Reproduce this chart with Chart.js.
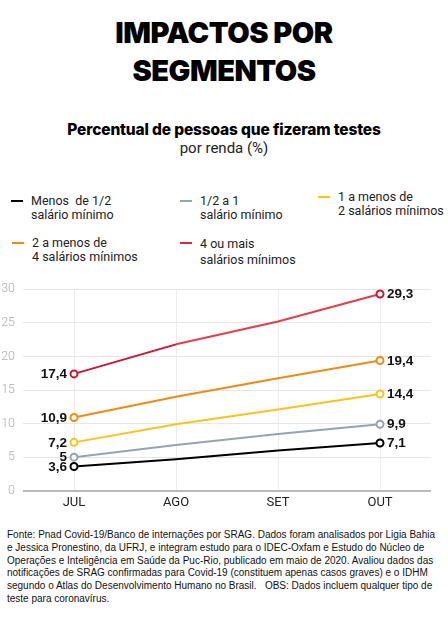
<!DOCTYPE html>
<html>
<head>
<meta charset="utf-8">
<script src="https://cdn.jsdelivr.net/npm/chart.js@4/dist/chart.umd.min.js"></script>
<style>
  html,body{margin:0;padding:0;background:#fff;}
  body{width:448px;height:631px;position:relative;overflow:hidden;font-family:Roboto,"Liberation Sans",Arial,sans-serif;}
  .title{position:absolute;left:0;width:448px;top:14px;text-align:center;font-family:Inter,Roboto,sans-serif;font-weight:900;font-size:29px;line-height:38px;letter-spacing:-0.5px;color:#000;}
  .sub{position:absolute;left:0;width:448px;top:121px;text-align:center;font-family:Inter,Roboto,sans-serif;font-weight:800;font-size:15.5px;letter-spacing:-0.15px;color:#000;line-height:18px;}
  .sub2{position:absolute;left:0;width:448px;top:139px;text-align:center;font-family:Roboto,sans-serif;font-size:15px;color:#222;line-height:18px;}
  .leg{position:absolute;font-size:12.5px;line-height:13.5px;color:#222;}
  .leg .sw{position:absolute;width:12px;height:2px;left:-20px;top:6px;}
  #wrap{position:absolute;left:0;top:280px;width:448px;height:232px;}
  .foot{position:absolute;left:7px;top:529px;font-family:"Liberation Sans",Arial,sans-serif;font-size:10px;line-height:12.8px;color:#111;white-space:pre;}
</style>
</head>
<body>
<div class="title">IMPACTOS POR<br>SEGMENTOS</div>
<div class="sub">Percentual de pessoas que fizeram testes</div>
<div class="sub2">por renda (%)</div>
<div id="legend"></div>
<div id="wrap"><canvas id="c"></canvas></div>
<div class="foot">Fonte: Pnad Covid-19/Banco de internações por SRAG. Dados foram analisados por Ligia Bahia
e Jessica Pronestino, da UFRJ, e integram estudo para o IDEC-Oxfam e Estudo do Núcleo de
Operações e Inteligência em Saúde da Puc-Rio, publicado em maio de 2020. Avaliou dados das
notificações de SRAG confirmadas para Covid-19 (constituem apenas casos graves) e o IDHM
segundo o Atlas do Desenvolvimento Humano no Brasil.   OBS: Dados incluem qualquer tipo de
teste para coronavírus.</div>
<script>
const categories = ["JUL", "AGO", "SET", "OUT"];
const seriesNames = [
  ["Menos  de 1/2", "salário mínimo"],
  ["1/2 a 1", "salário mínimo"],
  ["1 a menos de", "2 salários mínimos"],
  ["2 a menos de", "4 salários mínimos"],
  ["4 ou mais", "salários mínimos"]
];
const menos12 = [3.6, 4.7, 6.0, 7.1];
const meioA1 = [5, 6.8, 8.45, 9.9];
const umA2 = [7.2, 9.9, 12.1, 14.4];
const doisA4 = [10.9, 14.0, 16.75, 19.4];
const quatroMais = [17.4, 21.8, 25.2, 29.3];
const yTicks = [0, 5, 10, 15, 20, 25, 30];

const colors = ["#000000", "#97a4ae", "#f6c51b", "#ee8b13", "#dc2a3a"];
const pointColors = ["#000000", "#97a4ae", "#f6c51b", "#ee8b13", "#d0142e"];
const seriesValues = [menos12, meioA1, umA2, doisA4, quatroMais];

// legend (HTML)
const legPos = [[31,194],[200,194],[338,190],[32,236],[200,236]];
const legEl = document.getElementById('legend');
seriesNames.forEach((n,i)=>{
  const d = document.createElement('div');
  d.className='leg';
  d.style.left = legPos[i][0]+'px';
  d.style.top = legPos[i][1]+'px';
  d.innerHTML = '<span class="sw" style="background:'+colors[i]+'"></span>'+n[0].replace(/ /g,'&nbsp;')+'<br>'+n[1];
  if(i===4){d.style.lineHeight='15.5px'; }
  legEl.appendChild(d);
});

const endLabels = {
  id:'endLabels',
  afterDatasetsDraw(chart){
    const ctx = chart.ctx;
    ctx.save();
    ctx.font = 'bold 13.5px "Liberation Sans", Arial, sans-serif';
    ctx.fillStyle = '#111';
    ctx.textBaseline = 'middle';
    chart.data.datasets.forEach((ds,i)=>{
      const meta = chart.getDatasetMeta(i);
      const first = meta.data[0], last = meta.data[meta.data.length-1];
      const fmt = v => String(v).replace('.', ',');
      ctx.textAlign = 'right';
      ctx.fillText(fmt(ds.data[0]), first.x-7, first.y+0.5);
      ctx.textAlign = 'left';
      ctx.fillText(fmt(ds.data[ds.data.length-1]), last.x+7, last.y+0.5);
    });
    ctx.restore();
  }
};

new Chart(document.getElementById('c'), {
  type:'line',
  data:{
    labels: categories,
    datasets: seriesValues.map((v,i)=>({
      label: seriesNames[i].join(' '),
      data: v,
      borderColor: colors[i],
      segment: i===4 ? {borderColor:(s)=> s.p0DataIndex===0 ? '#cc1433' : '#e23e4c'} : undefined,
      backgroundColor:'#fff',
      pointBackgroundColor:'#fff',
      pointBorderColor: pointColors[i],
      borderWidth: 2,
      pointRadius: (ctx)=> (ctx.dataIndex===0 || ctx.dataIndex===categories.length-1) ? 3.5 : 0,
      pointBorderWidth: 2,
      tension: 0
    }))
  },
  options:{
    responsive:true,
    maintainAspectRatio:false,
    animation:false,
    layout:{padding:{top:9.3,right:17,left:0,bottom:0}},
    plugins:{legend:{display:false},tooltip:{enabled:false}},
    scales:{
      x:{
        offset:true,
        grid:{offset:false,color:'#ececec',lineWidth:1,drawTicks:false},
        border:{display:false},
        ticks:{color:'#222',font:{family:'Roboto',size:13},padding:4},
        afterFit(s){ s.height = 21.3; }
      },
      y:{
        min:0,max:30,
        afterBuildTicks(s){ s.ticks = yTicks.map(v=>({value:v})); },
        grid:{
          color:(c)=> c.tick && c.tick.value===0 ? '#b9b9b9' : '#e6e6e6',
          lineWidth:(c)=> c.tick && c.tick.value===0 ? 2 : 1,
          drawTicks:false
        },
        border:{display:false},
        ticks:{color:'#adadad',font:{family:'Roboto',size:12.5,weight:300},padding:8},
        afterFit(s){ s.width = 23; s.paddingTop = 0; s.paddingBottom = 0; }
      }
    }
  },
  plugins:[endLabels]
});
</script>
</body>
</html>
